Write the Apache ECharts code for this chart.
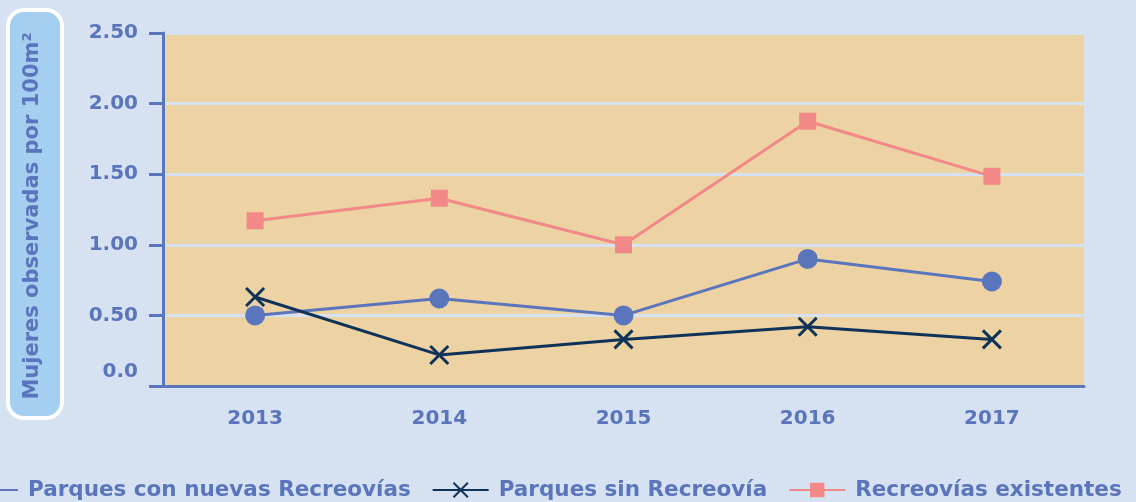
<!DOCTYPE html>
<html>
<head>
<meta charset="utf-8">
<script src="https://cdn.jsdelivr.net/npm/echarts@6/dist/echarts.min.js"></script>
<style>
  html, body { margin: 0; padding: 0; background: #D6E2F2; }
  #chart { width: 1136px; height: 502px; }
</style>
</head>
<body>
<div id="chart"></div>
<script>
// datos
const years = ['2013', '2014', '2015', '2016', '2017'];
const nuevas = [0.50, 0.62, 0.50, 0.90, 0.74];
const sinRecreovia = [0.63, 0.22, 0.33, 0.42, 0.33];
const existentes = [1.17, 1.33, 1.00, 1.875, 1.485];
const seriesNames = ['Parques con nuevas Recreovías', 'Parques sin Recreovía', 'Recreovías existentes'];

const axisBlue = '#5A75BC';
const font = 'DejaVu Sans';

const myChart = echarts.init(document.getElementById('chart'));
let option = {
  backgroundColor: '#D6E2F2',
  textStyle: { fontFamily: font },
  legend: {
    show: true,
    top: 474,
    left: -44,
    width: 1400,
    itemGap: 21,
    itemWidth: 56,
    itemHeight: 18,
    textStyle: { color: axisBlue, fontSize: 21.5, fontWeight: 'bold', fontFamily: font, padding: [0, 0, 0, 5] },
    data: seriesNames
  },
  grid: {
    left: 163,
    right: 52,
    top: 33,
    bottom: 116,
    show: true,
    backgroundColor: '#EDD2A3',
    borderWidth: 0
  },
  xAxis: {
    type: 'category',
    data: years,
    axisLine: { lineStyle: { color: axisBlue, width: 3 } },
    axisTick: { alignWithLabel: true, length: 15, lineStyle: { color: axisBlue, width: 3 } },
    axisLabel: { color: axisBlue, fontSize: 20, fontWeight: 'bold', margin: 23 }
  },
  yAxis: {
    type: 'value',
    min: 0,
    max: 2.5,
    interval: 0.5,
    axisLine: { show: true, lineStyle: { color: axisBlue, width: 3 } },
    axisTick: { show: true, length: 14, lineStyle: { color: axisBlue, width: 3 } },
    axisLabel: {
      color: axisBlue,
      fontSize: 20,
      fontWeight: 'bold',
      margin: 25,
      formatter: function (v) {
        return v === 0 ? '{z|0.0}' : v.toFixed(2);
      },
      rich: {
        z: { color: axisBlue, fontSize: 20, fontWeight: 'bold', padding: [0, 0, 28, 0] }
      }
    },
    splitLine: { show: true, lineStyle: { color: '#D6E2F2', width: 3 } }
  },
  graphic: [
    {
      type: 'rect',
      left: 6,
      top: 8,
      shape: { width: 54, height: 408, r: 16 },
      style: { fill: '#A4CFF0', stroke: '#FFFFFF', lineWidth: 4 }
    },
    {
      type: 'text',
      x: 33,
      y: 216,
      rotation: Math.PI / 2,
      style: {
        text: 'Mujeres observadas por 100m²',
        fill: axisBlue,
        font: 'bold 21px ' + font,
        align: 'center',
        verticalAlign: 'middle'
      }
    }
  ],
  series: [
    {
      name: seriesNames[0],
      type: 'line',
      data: nuevas,
      symbol: 'circle',
      symbolSize: 20,
      color: '#5A75BC',
      lineStyle: { width: 3 },
      z: 3
    },
    {
      name: seriesNames[1],
      type: 'line',
      data: sinRecreovia,
      symbol: 'path://M0,0L10,10M10,0L0,10',
      symbolSize: 18,
      color: '#0F3358',
      itemStyle: { color: '#0F3358', borderColor: '#0F3358', borderWidth: 3 },
      lineStyle: { width: 3 },
      z: 4
    },
    {
      name: seriesNames[2],
      type: 'line',
      data: existentes,
      symbol: 'rect',
      symbolSize: 17,
      color: '#F28888',
      lineStyle: { width: 3 },
      z: 2
    }
  ]
};
myChart.setOption(option);
</script>
</body>
</html>
